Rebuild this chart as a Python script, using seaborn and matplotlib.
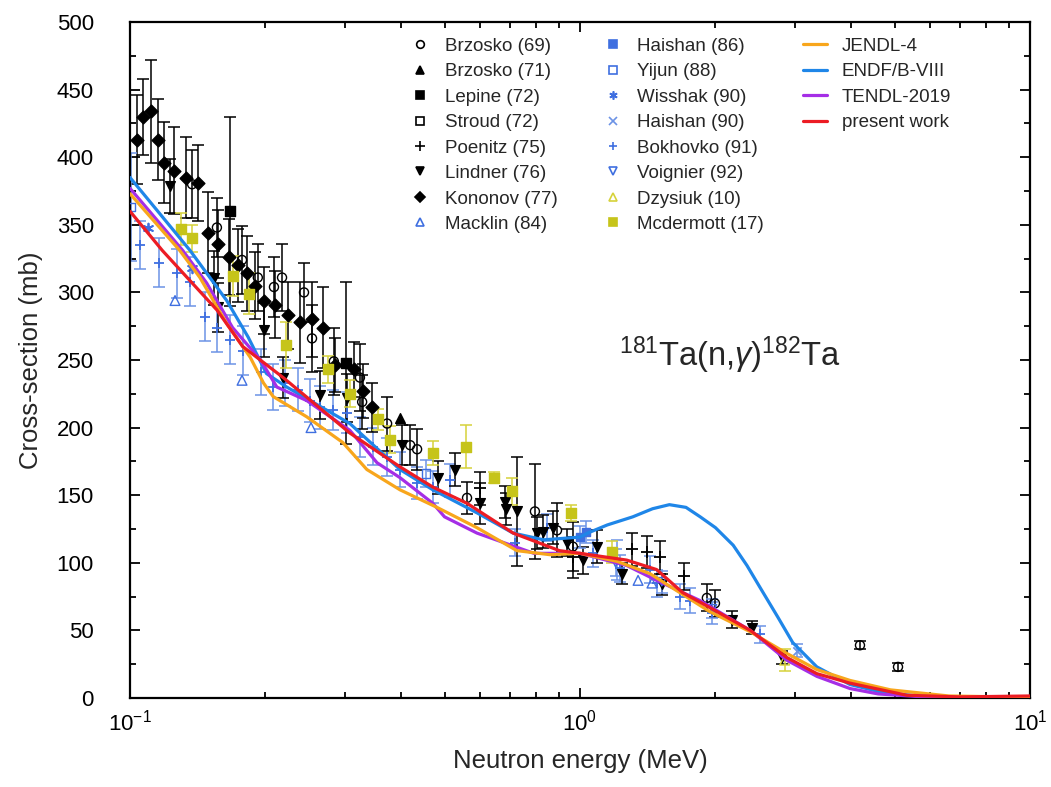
import matplotlib
matplotlib.use("Agg")
import matplotlib.pyplot as plt
import seaborn as sns
from matplotlib.lines import Line2D
from matplotlib.ticker import MultipleLocator, LogLocator, NullFormatter

# ---------------- evaluated cross sections (MeV, mb) ----------------
jendl_E = [0.1, 0.129, 0.143, 0.164, 0.185, 0.198, 0.208, 0.247, 0.297, 0.336, 0.398,
           0.481, 0.59, 0.724, 0.857, 1.0, 1.21, 1.43, 1.94, 2.39, 2.88, 3.36, 3.98,
           4.9, 6.6, 10.0]
jendl_S = [373, 331, 311, 277, 252, 233, 223, 208, 189, 169, 154,
           141, 126, 109, 106, 107, 101, 92, 64, 49, 33, 21, 13,
           6, 1.5, 0.5]

endf_E = [0.1, 0.136, 0.164, 0.183, 0.201, 0.223, 0.308, 0.398, 0.471, 0.59, 0.71,
          0.83, 1.0, 1.04, 1.15, 1.31, 1.45, 1.58, 1.72, 1.85, 2.0, 2.19, 2.35,
          2.51, 2.75, 2.97, 3.36, 3.98, 4.71, 6.0, 10.0]
endf_S = [385, 331, 294, 267, 240, 230, 203, 169, 154, 137, 122,
          117, 119, 122, 128, 134, 140, 143, 141, 134, 126, 113, 98,
          82, 60, 41, 23, 10, 4, 0.7, 0.2]

tendl_E = [0.1, 0.131, 0.148, 0.169, 0.195, 0.212, 0.247, 0.308, 0.354, 0.398, 0.471,
           0.50, 0.59, 0.79, 1.0, 1.27, 1.48, 1.85, 2.39, 2.88, 3.36, 3.98, 4.6,
           6.0, 10.0]
tendl_S = [377, 331, 307, 274, 250, 230, 220, 198, 174, 163, 144,
           134, 122, 107, 107, 98, 87, 72, 50, 28, 16, 7, 3,
           0.5, 0.2]

present_E = [0.1, 0.118, 0.156, 0.178, 0.219, 0.308, 0.398, 0.471, 0.561, 0.71, 0.90,
             1.0, 1.27, 1.48, 1.69, 1.94, 2.39, 2.88, 3.36, 3.98, 5.33, 7.0, 10.0]
present_S = [360, 331, 287, 260, 237, 196, 171, 156, 144, 122, 109,
             107, 102, 95, 78, 67, 50, 30, 18, 11, 2, 0.8, 1.5]

# ---------------- measurements (MeV, mb, mb) ----------------
brz69_E = [0.1374, 0.156, 0.1774, 0.1923, 0.2089, 0.2177, 0.2436, 0.2538, 0.2838, 0.3243,
           0.328, 0.3727, 0.4194, 0.4345, 0.561, 0.794, 0.889, 0.964, 1.914, 1.995, 4.19, 5.09]
brz69_S = [380, 348, 324, 311, 304, 311, 300, 266, 249, 237,
           219, 203, 187, 184, 148, 138, 124, 112, 74, 70, 39, 23]
brz69_D = [25, 22, 25, 25, 22, 25, 22, 25, 25, 25,
           20, 20, 15, 15, 12, 35, 20, 18, 10, 10, 3, 3]

brz71_E = [0.398]
brz71_S = [207]

lep_E = [0.1668, 0.302]
lep_S = [360, 248]
lep_D = [70, 60]

stroud_E = []
stroud_S = []

poe_E = [0.600, 0.964, 1.305, 1.41, 1.507, 1.703]
poe_S = [155, 104, 110, 108, 104, 90]
poe_D = [12, 15, 12, 12, 12, 10]

lind_E = [0.1227, 0.154, 0.157, 0.198, 0.219, 0.264, 0.303, 0.402, 0.483, 0.527, 0.600,
          0.681, 0.685, 0.724, 0.802, 0.828, 0.871, 0.936, 1.016, 1.091, 1.24, 1.52,
          2.18, 2.41, 2.81]
lind_S = [379, 311, 289, 272, 237, 224, 222, 187, 163, 169, 144,
          145, 140, 138, 122, 123, 126, 115, 102, 112, 92, 84,
          58, 52, 30]
lind_D = [20, 20, 18, 20, 15, 18, 18, 15, 12, 12, 15,
          12, 12, 40, 12, 12, 12, 10, 10, 12, 8, 8,
          6, 5, 5]

kon_E = [0.1037, 0.1069, 0.1114, 0.1154, 0.119, 0.125, 0.133, 0.1416, 0.149, 0.157,
         0.166, 0.174, 0.182, 0.19, 0.198, 0.21, 0.224, 0.239, 0.254, 0.268,
         0.285, 0.315, 0.33, 0.345]
kon_S = [413, 430, 434, 413, 396, 390, 385, 381, 344, 336,
         326, 320, 314, 305, 294, 291, 283, 278, 280, 274,
         246, 243, 227, 215]
kon_D = [33, 28, 38, 30, 30, 32, 30, 28, 30, 25,
         28, 27, 28, 25, 25, 25, 25, 30, 28, 30,
         20, 20, 20, 18]

mack_E = [0.1259, 0.1774, 0.2525, 1.346, 1.445]
mack_S = [294, 235, 200, 87, 85]

hai86_E = [1.0, 1.03]
hai86_S = [119, 123]
hai86_D = [8, 8]

yij_E = [0.1005, 0.455]
yij_S = [363, 166]
yij_D = [40, 10]

wis_E = [0.1096, 0.1374]
wis_S = [348, 318]

hai90_E = [3.03]
hai90_S = [35]
hai90_D = [5]

bok_E = [0.1055, 0.116, 0.127, 0.136, 0.147, 0.156, 0.167, 0.178, 0.195, 0.208,
         0.221, 0.236, 0.251, 0.264, 0.283, 0.303, 0.324, 0.347, 0.373, 0.398,
         0.434, 0.471, 0.514, 0.717, 0.845, 1.069, 1.208, 1.227, 1.43, 1.483,
         1.668, 1.755, 1.964, 2.51]
bok_S = [335, 322, 314, 308, 282, 274, 265, 257, 241, 230,
         233, 228, 220, 215, 213, 211, 193, 186, 178, 169,
         159, 156, 161, 115, 126, 107, 102, 96, 95, 85,
         75, 72, 63, 47]
bok_D = [18, 18, 18, 18, 18, 18, 18, 18, 17, 17,
         17, 16, 16, 16, 15, 15, 15, 14, 14, 13,
         12, 12, 12, 10, 10, 10, 15, 10, 10, 10,
         9, 9, 8, 6]

voi_E = [1.2, 1.52, 1.97]
voi_S = [100, 86, 66]
voi_D = [10, 8, 7]

dzy_E = [2.85]
dzy_S = [28]
dzy_D = [8]

mcd_E = [0.1298, 0.1374, 0.1694, 0.1838, 0.222, 0.275, 0.308, 0.356, 0.378, 0.471,
         0.558, 0.644, 0.706, 0.955, 1.178]
mcd_S = [347, 340, 312, 299, 261, 243, 225, 206, 191, 181,
         186, 163, 153, 137, 108]
mcd_D = [12, 10, 15, 15, 17, 10, 10, 8, 10, 9,
         16, 4, 10, 6, 8]

# ---------------- styling ----------------
sns.set_theme(style="ticks")
plt.rcParams["font.family"] = ["Liberation Sans", "DejaVu Sans"]
plt.rcParams["mathtext.fontset"] = "custom"
plt.rcParams["mathtext.rm"] = "Liberation Sans"
plt.rcParams["mathtext.it"] = "Liberation Sans:italic"

BLACK = "black"
BLUE = "#3f6fe0"
LBLUE = "#6c93e6"
YELLOW = "#c6c41a"
YELLOW_T = "#d6d23a"

fig = plt.figure(figsize=(10.51, 7.87), dpi=100)
ax = fig.add_axes([0.1237, 0.1131, 0.8563, 0.8589])

# measurements: (label, E, S, dS, marker, face, edge, ecolor, size)
series = [
    ("Bokhovko (91)", bok_E, bok_S, bok_D, "+", BLUE, BLUE, LBLUE, 7),
    ("Brzosko (69)", brz69_E, brz69_S, brz69_D, "o", "none", BLACK, BLACK, 6.5),
    ("Brzosko (71)", brz71_E, brz71_S, None, "^", BLACK, BLACK, BLACK, 7),
    ("Lepine (72)", lep_E, lep_S, lep_D, "s", BLACK, BLACK, BLACK, 7),
    ("Stroud (72)", stroud_E, stroud_S, None, "s", "none", BLACK, BLACK, 6),
    ("Poenitz (75)", poe_E, poe_S, poe_D, "+", BLACK, BLACK, BLACK, 9),
    ("Lindner (76)", lind_E, lind_S, lind_D, "v", BLACK, BLACK, BLACK, 7),
    ("Kononov (77)", kon_E, kon_S, kon_D, "D", BLACK, BLACK, BLACK, 6.5),
    ("Macklin (84)", mack_E, mack_S, None, "^", "none", BLUE, BLUE, 7),
    ("Haishan (86)", hai86_E, hai86_S, hai86_D, "s", BLUE, BLUE, LBLUE, 6),
    ("Yijun (88)", yij_E, yij_S, yij_D, "s", "none", BLUE, LBLUE, 6),
    ("Wisshak (90)", wis_E, wis_S, None, (6, 2, 0), BLUE, BLUE, BLUE, 7),
    ("Haishan (90)", hai90_E, hai90_S, hai90_D, "x", LBLUE, LBLUE, LBLUE, 6),
    ("Voignier (92)", voi_E, voi_S, voi_D, "v", "none", BLUE, LBLUE, 6),
    ("Dzysiuk (10)", dzy_E, dzy_S, dzy_D, "^", "none", YELLOW_T, YELLOW_T, 7),
    ("Mcdermott (17)", mcd_E, mcd_S, mcd_D, "s", YELLOW, YELLOW, YELLOW_T, 7),
]

handles = {}
for lab, E, S, D, mk, fc, ec, erc, ms in series:
    if len(E):
        ax.errorbar(E, S, yerr=D, fmt="none", ecolor=erc, elinewidth=1.1,
                    capsize=4, capthick=1.1, zorder=2)
        sns.scatterplot(x=E, y=S, ax=ax, marker=mk, s=ms ** 2,
                        facecolors=fc if fc != "none" else "none",
                        edgecolors=ec, color=ec,
                        linewidths=1.3 if mk in ("+", "x", (6, 2, 0)) else 1.0,
                        zorder=3, legend=False)
    handles[lab] = Line2D([], [], ls="none", marker=mk, markersize=ms * 0.85,
                          markerfacecolor=fc, markeredgecolor=ec,
                          markeredgewidth=1.2, color=ec)

# evaluated curves
curves = [
    ("ENDF/B-VIII", endf_E, endf_S, "#1f86e8"),
    ("TENDL-2019", tendl_E, tendl_S, "#a52ee6"),
    ("JENDL-4", jendl_E, jendl_S, "#f8a61c"),
    ("present work", present_E, present_S, "#ec1c24"),
]
line_handles = {}
for lab, E, S, col in curves:
    sns.lineplot(x=E, y=S, ax=ax, color=col, lw=2.3, sort=False,
                 estimator=None, zorder=5, legend=False)
    line_handles[lab] = Line2D([], [], color=col, lw=2.3)

ax.set_xscale("log")
ax.set_xlim(0.1, 10)
ax.set_ylim(0, 500)
ax.yaxis.set_major_locator(MultipleLocator(50))
ax.yaxis.set_minor_locator(MultipleLocator(25))
ax.xaxis.set_major_locator(LogLocator(base=10, numticks=10))
ax.xaxis.set_minor_locator(LogLocator(base=10, subs=range(2, 10), numticks=20))
ax.xaxis.set_minor_formatter(NullFormatter())
ax.tick_params(which="both", direction="in", top=True, right=True,
               colors="black", labelsize=16, width=1.3)
ax.tick_params(which="major", length=7)
ax.tick_params(which="minor", length=4.5)
ax.tick_params(axis="x", which="major", pad=8)
ax.tick_params(axis="y", which="major", pad=26)
for sp in ax.spines.values():
    sp.set_linewidth(1.6)
    sp.set_color("black")

ax.set_xlabel("Neutron energy (MeV)", fontsize=18.5, labelpad=10)
ax.set_ylabel("Cross-section (mb)", fontsize=18.5, labelpad=10)

ax.text(0.667, 0.507, r"$^{181}$Ta(n,$\gamma$)$^{182}$Ta", transform=ax.transAxes,
        ha="center", va="center", fontsize=23.5)

# legends
col1 = ["Brzosko (69)", "Brzosko (71)", "Lepine (72)", "Stroud (72)",
        "Poenitz (75)", "Lindner (76)", "Kononov (77)", "Macklin (84)"]
col2 = ["Haishan (86)", "Yijun (88)", "Wisshak (90)", "Haishan (90)",
        "Bokhovko (91)", "Voignier (92)", "Dzysiuk (10)", "Mcdermott (17)"]
col3 = ["JENDL-4", "ENDF/B-VIII", "TENDL-2019", "present work"]

common = dict(frameon=False, fontsize=13.5, loc="upper left", borderpad=0,
              borderaxespad=0, labelspacing=0.445, handletextpad=0.8)
leg1 = ax.legend([handles[k] for k in col1], col1, bbox_to_anchor=(0.312, 0.977),
                 handlelength=1.0, **common)
ax.add_artist(leg1)
leg2 = ax.legend([handles[k] for k in col2], col2, bbox_to_anchor=(0.526, 0.977),
                 handlelength=1.0, **common)
ax.add_artist(leg2)
ax.legend([line_handles[k] for k in col3], col3, bbox_to_anchor=(0.748, 0.977),
          handlelength=1.25, **common)

fig.savefig("out.png", dpi=100)
